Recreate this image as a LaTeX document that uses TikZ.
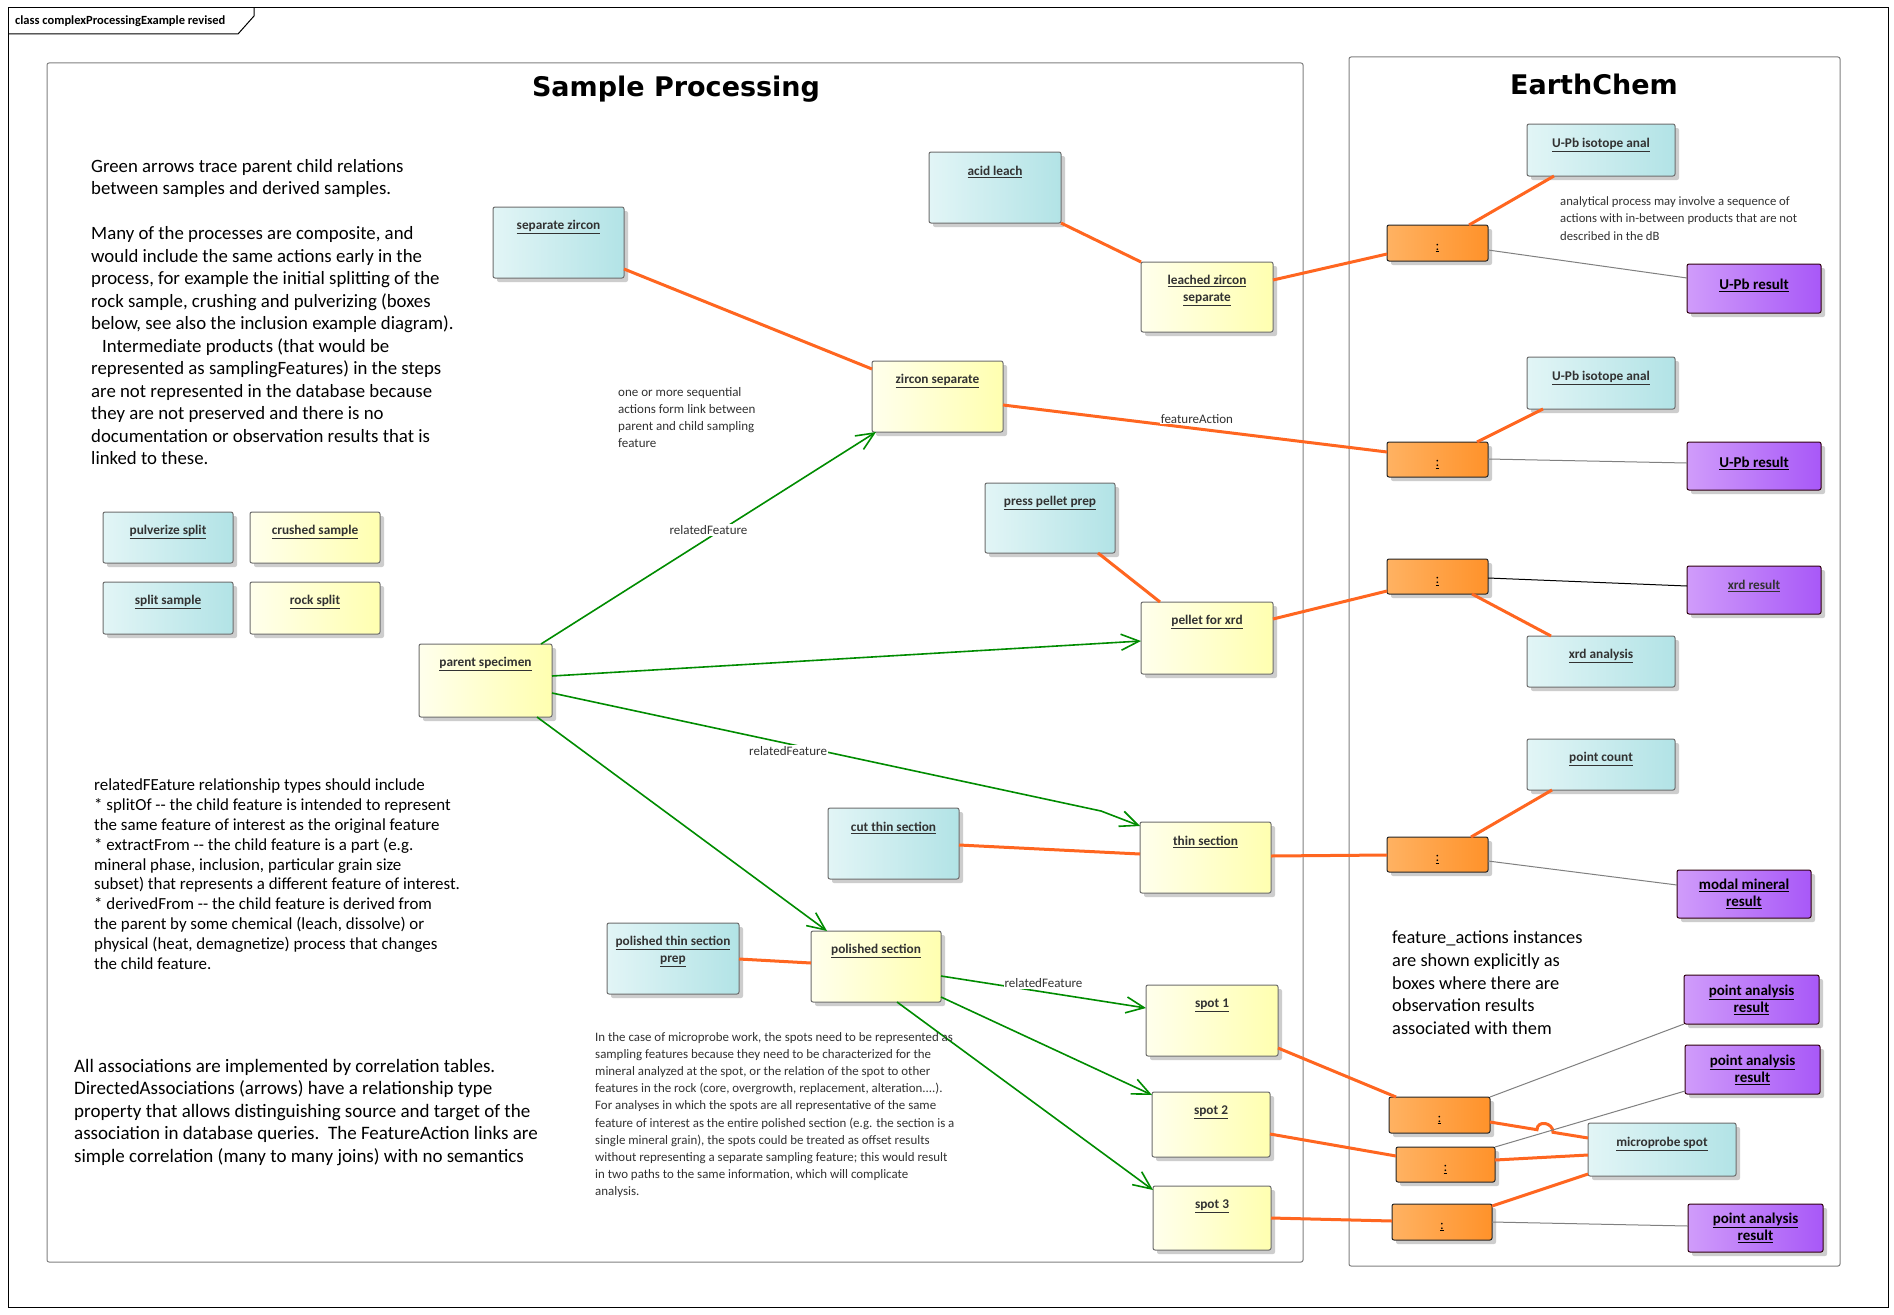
\documentclass[tikz,border=0pt]{standalone}
\usepackage{fontspec}
\setmainfont{Carlito}
\newfontfamily\headfont{DejaVu Sans}
\usetikzlibrary{arrows.meta,shadows,calc}
\definecolor{oline}{RGB}{255,102,32}
\definecolor{gline}{RGB}{0,140,0}
\definecolor{cyL}{RGB}{226,245,246}
\definecolor{cyR}{RGB}{178,227,230}
\definecolor{yeL}{RGB}{255,255,236}
\definecolor{yeR}{RGB}{255,255,176}
\definecolor{orL}{RGB}{255,178,98}
\definecolor{orR}{RGB}{255,146,42}
\definecolor{puL}{RGB}{208,156,250}
\definecolor{puR}{RGB}{168,88,248}
\definecolor{bordergray}{RGB}{110,110,110}
\definecolor{shadowgray}{RGB}{205,205,205}
\definecolor{labelgray}{RGB}{50,50,50}
\definecolor{framegray}{RGB}{128,128,128}
\newcommand\ulbl[1]{\underline{#1}}
\newcommand\mkbox[6]{\node[#1, minimum width={#5-#3}, minimum height={#6-#4}] (#2) at (#3,#4) {};}
\tikzset{
 basebox/.style={draw=bordergray, line width=1pt, rounded corners=2pt, anchor=north west, inner sep=0pt, outer sep=0pt,
   drop shadow={shadow xshift=4pt, shadow yshift=-4pt, fill=shadowgray, opacity=1}},
 cyanbox/.style={basebox, left color=cyL, right color=cyR},
 yellowbox/.style={basebox, left color=yeL, right color=yeR},
 orangebox/.style={basebox, draw=black!85, left color=orL, right color=orR},
 purplebox/.style={basebox, draw=black!75!purple, left color=puL, right color=puR},
 lbl/.style={inner sep=0pt, text=labelgray, font=\fontsize{13.3}{17}\selectfont\bfseries, align=center},
 plbl/.style={inner sep=0pt, text=black, font=\fontsize{15}{17}\selectfont\bfseries, align=center},
 olbl/.style={inner sep=0pt, text=black, font=\fontsize{14}{16}\selectfont},
 note/.style={inner sep=0pt, anchor=north west, align=left},
 feat/.style={draw=oline, line width=3pt},
 rel/.style={draw=gline, line width=1.6pt, -{Straight Barb[length=18pt,width=16pt]}},
 res/.style={draw=framegray, line width=1pt},
 conlbl/.style={inner sep=1pt, fill=white, text=labelgray, font=\fontsize{13}{15}\selectfont},
}
\begin{document}
\begin{tikzpicture}[x=1pt,y=-1pt]
\useasboundingbox (0,0) rectangle (1894,1314);
\fill[white] (0,0) rectangle (1894,1314);
% outer frame
\draw[black, line width=1pt] (8,8) rectangle (1888,1307);
\draw[black, line width=1pt] (8,34) -- (238,34) -- (254,16) -- (254,8);
\node[anchor=west, inner sep=0pt, font=\fontsize{12.5}{14}\selectfont\bfseries] (title) at (15,21) {class complexProcessingExample revised};
% package frames
\draw[framegray, line width=1pt, rounded corners=2pt] (47,63) rectangle (1303,1262);
\draw[framegray, line width=1pt, rounded corners=2pt] (1349,57) rectangle (1840,1266);
\node[inner sep=0pt, font=\headfont\bfseries\fontsize{27}{30}\selectfont] (sptitle) at (676,89) {Sample Processing};
\node[inner sep=0pt, font=\headfont\bfseries\fontsize{27}{30}\selectfont] (ectitle) at (1594,84) {EarthChem};

% boxes
\mkbox{cyanbox}{sepz}{493}{207}{624}{278}
\mkbox{cyanbox}{acid}{929}{152}{1061}{223}
\mkbox{yellowbox}{zircsep}{872}{361}{1003}{432}
\mkbox{yellowbox}{leached}{1141}{262}{1273}{332}
\mkbox{cyanbox}{upba}{1527}{124}{1675}{176}
\mkbox{orangebox}{oa}{1387}{225}{1488}{261}
\mkbox{purplebox}{upbra}{1687}{264}{1821}{313}
\mkbox{cyanbox}{upbb}{1527}{357}{1675}{409}
\mkbox{orangebox}{ob}{1387}{442}{1488}{477}
\mkbox{purplebox}{upbrb}{1687}{442}{1821}{490}
\mkbox{cyanbox}{press}{985}{483}{1115}{553}
\mkbox{yellowbox}{pellet}{1141}{602}{1273}{674}
\mkbox{orangebox}{oc}{1387}{559}{1488}{594}
\mkbox{purplebox}{xrdr}{1687}{566}{1821}{614}
\mkbox{cyanbox}{xrdan}{1527}{636}{1675}{687}
\mkbox{cyanbox}{pcount}{1527}{739}{1675}{790}
\mkbox{yellowbox}{parent}{419}{644}{552}{717}
\mkbox{cyanbox}{pulv}{103}{512}{233}{563}
\mkbox{yellowbox}{crushed}{250}{512}{380}{563}
\mkbox{cyanbox}{splits}{103}{582}{233}{634}
\mkbox{yellowbox}{rocks}{250}{582}{380}{634}
\mkbox{cyanbox}{cut}{828}{808}{959}{879}
\mkbox{yellowbox}{thin}{1140}{822}{1271}{893}
\mkbox{orangebox}{od}{1387}{837}{1488}{872}
\mkbox{purplebox}{modal}{1677}{870}{1811}{918}
\mkbox{cyanbox}{pprep}{607}{923}{739}{994}
\mkbox{yellowbox}{pol}{811}{931}{941}{1002}
\mkbox{yellowbox}{spota}{1146}{985}{1278}{1056}
\mkbox{yellowbox}{spotb}{1152}{1092}{1270}{1157}
\mkbox{yellowbox}{spotc}{1153}{1186}{1271}{1250}
\mkbox{orangebox}{oe}{1389}{1097}{1490}{1133}
\mkbox{orangebox}{of}{1396}{1147}{1495}{1182}
\mkbox{orangebox}{og}{1392}{1204}{1492}{1240}
\mkbox{cyanbox}{mprobe}{1588}{1123}{1736}{1176}
\mkbox{purplebox}{paa}{1684}{975}{1819}{1024}
\mkbox{purplebox}{pab}{1685}{1045}{1820}{1094}
\mkbox{purplebox}{pac}{1688}{1204}{1823}{1252}

% box labels
\node[lbl] (sepz-t) at ([yshift=-20pt]sepz.north) {\ulbl{separate zircon}};
\node[lbl] (acid-t) at ([yshift=-20pt]acid.north) {\ulbl{acid leach}};
\node[lbl] (zircsep-t) at ([yshift=-20pt]zircsep.north) {\ulbl{zircon separate}};
\node[lbl] (leached-t) at ([yshift=-28.5pt]leached.north) {\ulbl{leached zircon}\\\ulbl{separate}};
\node[lbl] (upba-t) at ([yshift=-21pt]upba.north) {\ulbl{U-Pb isotope anal}};
\node[lbl] (upbb-t) at ([yshift=-21pt]upbb.north) {\ulbl{U-Pb isotope anal}};
\node[plbl] (upbra-t) at ([yshift=3pt]upbra.center) {\ulbl{U-Pb result}};
\node[plbl] (upbrb-t) at ([yshift=3pt]upbrb.center) {\ulbl{U-Pb result}};
\node[lbl] (press-t) at ([yshift=-20pt]press.north) {\ulbl{press pellet prep}};
\node[lbl] (pellet-t) at ([yshift=-20pt]pellet.north) {\ulbl{pellet for xrd}};
\node[lbl] (xrdr-t) at ([yshift=4pt]xrdr.center) {\ulbl{xrd result}};
\node[lbl] (xrdan-t) at ([yshift=-20pt]xrdan.north) {\ulbl{xrd analysis}};
\node[lbl] (pcount-t) at ([yshift=-20pt]pcount.north) {\ulbl{point count}};
\node[lbl] (parent-t) at ([yshift=-20pt]parent.north) {\ulbl{parent specimen}};
\node[lbl] (pulv-t) at ([yshift=-20pt]pulv.north) {\ulbl{pulverize split}};
\node[lbl] (crushed-t) at ([yshift=-20pt]crushed.north) {\ulbl{crushed sample}};
\node[lbl] (splits-t) at ([yshift=-20pt]splits.north) {\ulbl{split sample}};
\node[lbl] (rocks-t) at ([yshift=-20pt]rocks.north) {\ulbl{rock split}};
\node[lbl] (cut-t) at ([yshift=-20pt]cut.north) {\ulbl{cut thin section}};
\node[lbl] (thin-t) at ([yshift=-20pt]thin.north) {\ulbl{thin section}};
\node[plbl] (modal-t) at ([yshift=0pt]modal.center) {\ulbl{modal mineral}\\\ulbl{result}};
\node[lbl] (pprep-t) at ([yshift=-28.5pt]pprep.north) {\ulbl{polished thin section}\\\ulbl{prep}};
\node[lbl] (pol-t) at ([yshift=-20pt]pol.north) {\ulbl{polished section}};
\node[lbl] (spota-t) at ([yshift=-20pt]spota.north) {\ulbl{spot 1}};
\node[lbl] (spotb-t) at ([yshift=-20pt]spotb.north) {\ulbl{spot 2}};
\node[lbl] (spotc-t) at ([yshift=-20pt]spotc.north) {\ulbl{spot 3}};
\node[lbl] (mprobe-t) at ([yshift=-21pt]mprobe.north) {\ulbl{microprobe spot}};
\node[plbl] (paa-t) at (paa.center) {\ulbl{point analysis}\\\ulbl{result}};
\node[plbl] (pab-t) at (pab.center) {\ulbl{point analysis}\\\ulbl{result}};
\node[plbl] (pac-t) at (pac.center) {\ulbl{point analysis}\\\ulbl{result}};
\foreach \o in {oa,ob,oc,od,oe,of,og}{\node[olbl] (\o-t) at ([yshift=-5pt]\o.center) {\ulbl{:}};}

% feature-action (orange) connectors
\draw[feat] ([yshift=9pt]sepz.south east) -- ([yshift=-8pt]zircsep.north west);
\draw[feat] (acid.south east) -- (leached.north west);
\draw[feat] ([yshift=-18pt]leached.north east) -- ([yshift=7pt]oa.south west);
\draw[feat] ([xshift=27pt]upba.south west) -- ([xshift=-19pt]oa.north east);
\draw[feat] ([yshift=-44pt]zircsep.north east) -- node[conlbl, pos=0.505, yshift=10pt] (falbl) {featureAction} ([yshift=-10pt]ob.north west);
\draw[feat] ([xshift=16pt]upbb.south west) -- ([xshift=-11pt]ob.north east);
\draw[feat] ([xshift=-17pt]press.south east) -- ([xshift=19pt]pellet.north west);
\draw[feat] ([yshift=-17pt]pellet.north east) -- ([yshift=3pt]oc.south west);
\draw[feat] ([xshift=-16pt]oc.south east) -- ([xshift=24pt]xrdan.north west);
\draw[feat] ([yshift=-37pt]cut.north east) -- ([yshift=-32pt]thin.north west);
\draw[feat] ([yshift=-34pt]thin.north east) -- ([yshift=-18pt]od.north west);
\draw[feat] ([xshift=25pt]pcount.south west) -- ([xshift=-17pt]od.north east);
\draw[feat] ([yshift=-36pt]pprep.north east) -- ([yshift=-32pt]pol.north west);
\draw[feat] ([yshift=8pt]spota.south east) -- ([xshift=7pt]oe.north west);
\draw[feat] ([yshift=11pt]oe.south east) -- (1537,1129.7) .. controls (1537,1120) and (1553,1122) .. (1553,1132.3) -- ([yshift=-15pt]mprobe.north west);
\draw[feat] ([yshift=-42pt]spotb.north east) -- ([yshift=-9pt]of.north west);
\draw[feat] ([yshift=-13pt]of.north east) -- ([yshift=-32pt]mprobe.north west);
\draw[feat] ([yshift=-32pt]spotc.north east) -- ([yshift=-17pt]og.north west);
\draw[feat] ([yshift=-2pt]og.north east) -- ([yshift=2pt]mprobe.south west);

% result links (thin)
\draw[res] ([yshift=-25pt]oa.north east) -- ([yshift=-14pt]upbra.north west);
\draw[res] ([yshift=-17pt]ob.north east) -- ([yshift=-21pt]upbrb.north west);
\draw[black, line width=1pt] ([yshift=-19pt]oc.north east) -- ([yshift=-20pt]xrdr.north west);
\draw[res] ([yshift=-24pt]od.north east) -- ([yshift=-15pt]modal.north west);
\draw[res] (oe.north east) -- (paa.south west);
\draw[res] (of.north east) -- ([yshift=3pt]pab.south west);
\draw[res] ([yshift=-18pt]og.north east) -- ([yshift=-22pt]pac.north west);

% related feature (green) arrows
\coordinate (bendthin) at (1101,811);
\draw[rel] ([xshift=-11pt]parent.north east) -- node[conlbl, pos=0.5, yshift=8pt] (rfa) {relatedFeature} ([xshift=4pt]zircsep.south west);
\draw[rel] ([yshift=-32pt]parent.north east) -- ([yshift=-39pt]pellet.north west);
\draw[rel] ([yshift=-49pt]parent.north east) -- node[conlbl, pos=0.43, yshift=-7pt] (rfb) {relatedFeature} (bendthin) -- ([yshift=-4pt]thin.north west);
\draw[rel] ([xshift=-15pt]parent.south east) -- ([xshift=16pt]pol.north west);
\draw[rel] ([yshift=-45pt]pol.north east) -- node[conlbl, pos=0.5, yshift=9pt] (rfc) {relatedFeature} ([yshift=-23pt]spota.north west);
\draw[rel] ([yshift=-66pt]pol.north east) -- ([yshift=-3pt]spotb.north west);
\draw[rel] ([xshift=-44pt]pol.south east) -- ([yshift=-4pt]spotc.north west);

% notes
\node[note, font=\fontsize{18.8}{22.5}\selectfont] (note1) at (91,159) {Green arrows trace parent child relations\\between samples and derived samples.\\[22.5pt]Many of the processes are composite, and\\would include the same actions early in the\\process, for example the initial splitting of the\\rock sample, crushing and pulverizing (boxes\\below, see also the inclusion example diagram).\\\hspace*{11pt}Intermediate products (that would be\\represented as samplingFeatures) in the steps\\are not represented in the database because\\they are not preserved and there is no\\documentation or observation results that is\\linked to these.};
\node[note, text=labelgray, font=\fontsize{13}{17}\selectfont] (note2) at (618,387) {one or more sequential\\actions form link between\\parent and child sampling\\feature};
\node[note, font=\fontsize{16.9}{19.8}\selectfont] (note3) at (94,779) {relatedFEature relationship types should include\\* splitOf -{}- the child feature is intended to represent\\the same feature of interest as the original feature\\* extractFrom -{}- the child feature is a part (e.g.\\mineral phase, inclusion, particular grain size\\subset) that represents a different feature of interest.\\* derivedFrom -{}- the child feature is derived from\\the parent by some chemical (leach, dissolve) or\\physical (heat, demagnetize) process that changes\\the child feature.};
\node[note, font=\fontsize{19}{22.5}\selectfont] (note4) at (74,1059) {All associations are implemented by correlation tables.\\DirectedAssociations (arrows) have a relationship type\\property that allows distinguishing source and target of the\\association in database queries.\ \ The FeatureAction links are\\simple correlation (many to many joins) with no semantics};
\node[note, text=labelgray, font=\fontsize{12.9}{17.2}\selectfont] (note5) at (595,1032) {In the case of microprobe work, the spots need to be represented as\\sampling features because they need to be characterized for the\\mineral analyzed at the spot, or the relation of the spot to other\\features in the rock (core, overgrowth, replacement, alteration....).\\For analyses in which the spots are all representative of the same\\feature of interest as the entire polished section (e.g. the section is a\\single mineral grain), the spots could be treated as offset results\\without representing a separate sampling feature; this would result\\in two paths to the same information, which will complicate\\analysis.};
\node[note, text=labelgray, font=\fontsize{12.7}{17.5}\selectfont] (note6) at (1560,196) {analytical process may involve a sequence of\\actions with in-between products that are not\\described in the dB};
\node[note, font=\fontsize{18.4}{22.6}\selectfont] (note7) at (1392,931) {feature\_actions instances\\are shown explicitly as\\boxes where there are\\observation results\\associated with them};
\end{tikzpicture}
\end{document}
